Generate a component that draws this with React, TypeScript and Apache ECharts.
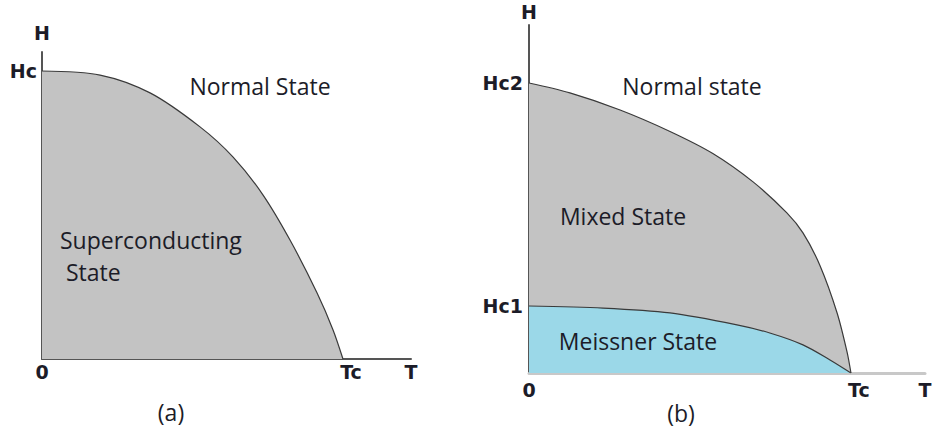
import React, { useEffect, useRef } from "react";
import * as echarts from "echarts";

// Panel (a): critical field curve of a type-I superconductor (T / Tc, H / Hc)
const tA = [0, 0.193, 0.359, 0.525, 0.635, 0.734, 0.824, 0.914, 0.967, 1];
const hA = [1, 0.986, 0.924, 0.806, 0.701, 0.57, 0.413, 0.229, 0.101, 0];

// Panel (b): type-II superconductor, upper critical field Hc2 (T / Tc, H / Hc2)
const tB2 = [0, 0.127, 0.283, 0.438, 0.571, 0.696, 0.801, 0.851, 0.904, 0.957, 0.988, 1];
const hB2 = [1, 0.966, 0.907, 0.833, 0.757, 0.659, 0.552, 0.483, 0.37, 0.207, 0.072, 0];

// Panel (b): lower critical field Hc1
const tB1 = [0, 0.23, 0.438, 0.646, 0.748, 0.851, 0.935, 1];
const hB1 = [0.231, 0.224, 0.207, 0.166, 0.138, 0.097, 0.045, 0];

// Tick labels
const xTicksA = [0, 1, 1.226];
const xTickNamesA = ["0", "Tc", "T"];
const yTicksA = [1];
const yTickNamesA = ["Hc"];
const xTicksB = [0, 1, 1.23];
const xTickNamesB = ["0", "Tc", "T"];
const yTicksB = [0.231, 1];
const yTickNamesB = ["Hc1", "Hc2"];

const zip = (xs: number[], ys: number[]) => xs.map((x, i) => [x, ys[i]]);

const nameOf = (ticks: number[], names: string[]) => (v: number) => {
  let best = 0;
  for (let i = 0; i < ticks.length; i++) {
    if (Math.abs(ticks[i] - v) < Math.abs(ticks[best] - v)) best = i;
  }
  const n = names[best];
  return n === "Tc" ? "{tc|Tc}" : n;
};

const LABEL_FONT = "DejaVu Sans";
const TEXT_FONT = "Open Sans";
const DARK = "#1c1c28";

export default function App() {
  const ref = useRef<HTMLDivElement>(null);
  useEffect(() => {
    if (!ref.current) return;
    const chart = echarts.init(ref.current, undefined, { renderer: "svg" });
    const tickLabel = (margin: number, ticks: number[], names: string[], extra: any = {}) => ({
      show: true,
      customValues: ticks,
      formatter: nameOf(ticks, names),
      fontFamily: LABEL_FONT,
      fontWeight: "bold",
      fontSize: 19,
      color: DARK,
      margin,
      rich: {
        tc: { fontFamily: LABEL_FONT, fontWeight: "bold", fontSize: 19, color: DARK, padding: [0, 0, 0, 16] },
      },
      ...extra,
    });
    const regionText = (text: string, x: number, y: number, align = "center") => ({
      type: "text",
      x,
      y,
      z: 100,
      style: {
        text,
        fontFamily: TEXT_FONT,
        fontSize: 23,
        fill: DARK,
        align,
        verticalAlign: "middle",
      },
    });
    const curveLine = { color: "#3a3a3a", width: 1.2 };
    chart.setOption({
      animation: false,
      backgroundColor: "#ffffff",
      grid: [
        { left: 42, top: 52, width: 369, height: 307 },
        { left: 529, top: 25, width: 396, height: 348 },
      ],
      xAxis: [
        {
          gridIndex: 0,
          type: "value",
          min: 0,
          max: 1.226,
          axisLine: { show: true, lineStyle: { color: "#555555", width: 2 } },
          axisTick: { show: false },
          splitLine: { show: false },
          axisLabel: tickLabel(3, xTicksA, xTickNamesA),
        },
        {
          gridIndex: 1,
          type: "value",
          min: 0,
          max: 1.23,
          axisLine: { show: true, lineStyle: { color: "#c8c8c8", width: 3 } },
          axisTick: { show: false },
          splitLine: { show: false },
          axisLabel: tickLabel(7, xTicksB, xTickNamesB),
        },
      ],
      yAxis: [
        {
          gridIndex: 0,
          type: "value",
          min: 0,
          max: 1.066,
          name: "H",
          nameLocation: "end",
          nameGap: 10,
          nameTextStyle: { fontFamily: LABEL_FONT, fontWeight: "bold", fontSize: 19, color: DARK },
          axisLine: { show: true, lineStyle: { color: "#555555", width: 2 } },
          axisTick: { show: false },
          splitLine: { show: false },
          axisLabel: tickLabel(5, yTicksA, yTickNamesA),
        },
        {
          gridIndex: 1,
          type: "value",
          min: 0,
          max: 1.2,
          name: "H",
          nameLocation: "end",
          nameGap: 4,
          nameTextStyle: { fontFamily: LABEL_FONT, fontWeight: "bold", fontSize: 19, color: DARK },
          axisLine: { show: true, lineStyle: { color: "#555555", width: 2 } },
          axisTick: { show: false },
          splitLine: { show: false },
          axisLabel: tickLabel(6, yTicksB, yTickNamesB),
        },
      ],
      series: [
        {
          type: "line",
          xAxisIndex: 0,
          yAxisIndex: 0,
          data: zip(tA, hA),
          smooth: 0.3,
          showSymbol: false,
          lineStyle: curveLine,
          areaStyle: { color: "#c3c3c3", opacity: 1 },
          z: 1,
        },
        {
          type: "line",
          xAxisIndex: 1,
          yAxisIndex: 1,
          data: zip(tB2, hB2),
          smooth: 0.3,
          showSymbol: false,
          lineStyle: curveLine,
          areaStyle: { color: "#c3c3c3", opacity: 1 },
          z: 1,
        },
        {
          type: "line",
          xAxisIndex: 1,
          yAxisIndex: 1,
          data: zip(tB1, hB1),
          smooth: 0.3,
          showSymbol: false,
          lineStyle: curveLine,
          areaStyle: { color: "#9bd8e8", opacity: 1 },
          z: 2,
        },
      ],
      graphic: {
        elements: [
          regionText("Normal State", 260, 86),
          regionText("Superconducting", 60, 240, "left"),
          regionText("State", 66, 272, "left"),
          regionText("(a)", 171, 412),
          regionText("Normal state", 692, 86),
          regionText("Mixed State", 623, 216),
          regionText("Meissner State", 638, 341),
          regionText("(b)", 681, 413),
        ],
      },
    });
    return () => chart.dispose();
  }, []);
  return (
    <div
      ref={ref}
      style={{ position: "absolute", left: 0, top: 0, width: 944, height: 439, background: "#fff" }}
    />
  );
}
